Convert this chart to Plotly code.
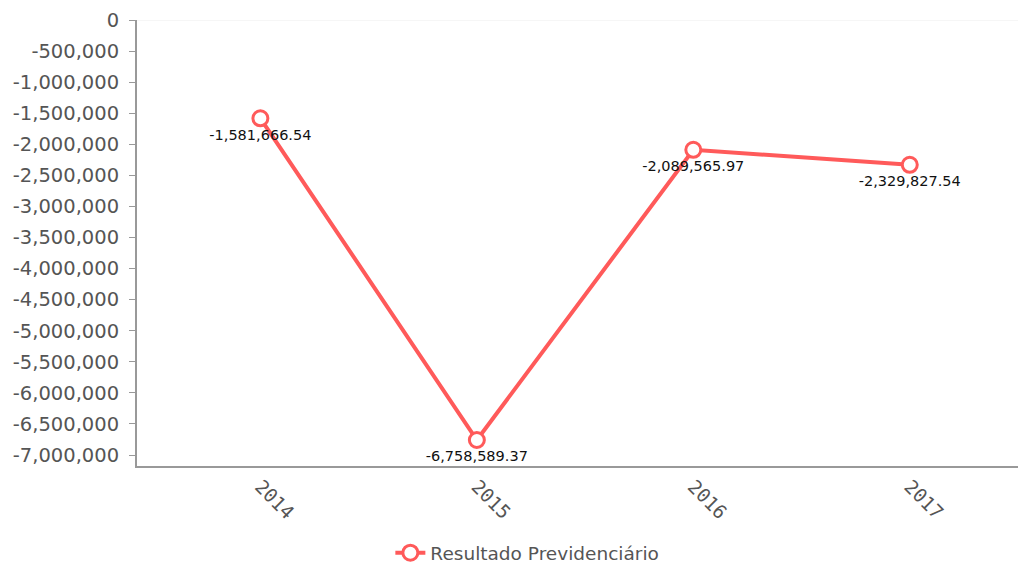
import plotly.graph_objects as go

categories = ["2014", "2015", "2016", "2017"]
values = [-1581666.54, -6758589.37, -2089565.97, -2329827.54]
labels = ["-1,581,666.54", "-6,758,589.37", "-2,089,565.97", "-2,329,827.54"]
tick_vals = [0, -500000, -1000000, -1500000, -2000000, -2500000, -3000000, -3500000,
             -4000000, -4500000, -5000000, -5500000, -6000000, -6500000, -7000000]
tick_text = ["{:,}".format(v) for v in tick_vals]

RED = "#ff5a5a"

fig = go.Figure()
fig.add_trace(go.Scatter(
    x=list(range(len(categories))), y=values,
    mode="lines+markers+text",
    name="Resultado Previdenciário",
    line=dict(color=RED, width=4),
    marker=dict(size=15, color="white", line=dict(color=RED, width=3)),
    text=labels, textposition="bottom center",
    textfont=dict(family="DejaVu Sans", size=14.5, color="#111"),
))

fig.update_layout(
    width=1024, height=565,
    margin=dict(l=137, r=6, t=20, b=99),
    plot_bgcolor="white", paper_bgcolor="white",
    showlegend=True,
    legend=dict(orientation="h", x=0.515, xref="container", xanchor="center",
                y=0.021, yref="container", yanchor="middle",
                font=dict(family="DejaVu Sans", size=18.5, color="#555")),
    xaxis=dict(
        range=[-0.57, 3.5], automargin=False,
        tickmode="array", tickvals=list(range(len(categories))), ticktext=categories,
        tickangle=45, showgrid=False, zeroline=False,
        showline=True, linecolor="#999", linewidth=2,
        tickfont=dict(family="DejaVu Sans Mono", size=19, color="#555"),
        ticks="", ticklabelstandoff=0,
    ),
    yaxis=dict(
        range=[-7177000, 0], automargin=False,
        tickmode="array", tickvals=tick_vals, ticktext=tick_text,
        showgrid=False, zeroline=False,
        showline=True, linecolor="#999", linewidth=2,
        ticks="outside", ticklen=6, tickcolor="#999",
        tickfont=dict(family="DejaVu Sans", size=19.5, color="#555"),
        ticklabelstandoff=6,
    ),
)
fig.add_shape(type="line", xref="paper", yref="y", x0=0, x1=1, y0=0, y1=0,
              line=dict(color="#eeeeee", width=1))

fig.write_html("out.html")
